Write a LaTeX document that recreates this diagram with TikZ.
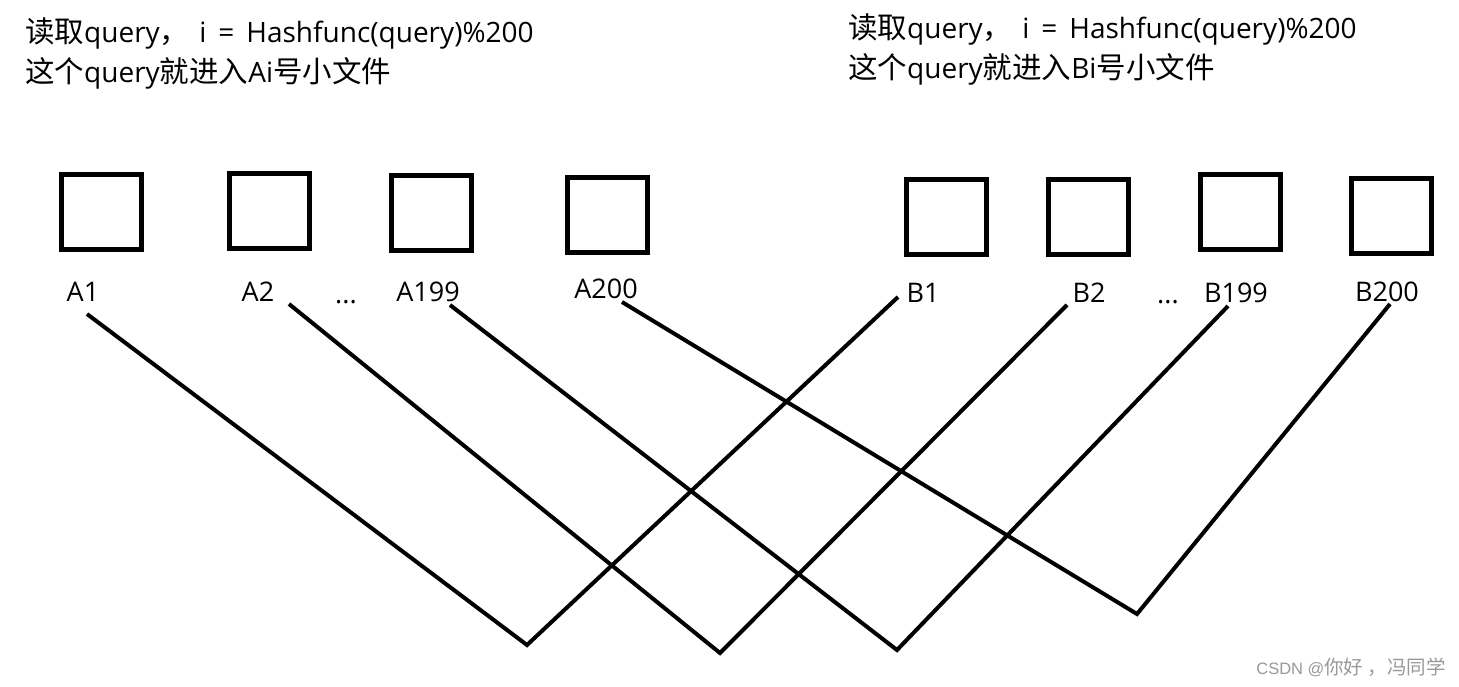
\documentclass[tikz,border=0pt]{standalone}
\usepackage{fontspec}
\setmainfont{Open Sans}
\newfontfamily\cjk{Noto Sans CJK SC}
\newfontfamily\wmlatin{Liberation Sans}
\newcommand{\zh}[1]{{\cjk\fontsize{29.5}{30}\selectfont #1}}
\begin{document}
\begin{tikzpicture}[x=1pt,y=-1pt,
  filebox/.style={draw,line width=5pt,minimum width=80pt,minimum height=75pt,inner sep=0pt},
  lbl/.style={font=\fontsize{27}{30}\selectfont,anchor=base,inner sep=0pt},
  note/.style={font=\fontsize{28}{30}\selectfont,anchor=base west,inner sep=0pt},
  link/.style={line width=4pt,line join=miter}]
\useasboundingbox[fill=white] (0,0) rectangle (1459,686);
% notes
\node[note] (nl1) at (25,42) {\zh{读取}query\zh{，}\hspace{10pt}i\hspace{12pt}=\hspace{12pt}Hashfunc(query)\%200};
\node[note] (nl2) at (25,82) {\zh{这个}query\zh{就进入}Ai\zh{号小文件}};
\node[note] (nr1) at (848,38) {\zh{读取}query\zh{，}\hspace{10pt}i\hspace{12pt}=\hspace{12pt}Hashfunc(query)\%200};
\node[note] (nr2) at (848,78) {\zh{这个}query\zh{就进入}Bi\zh{号小文件}};
% boxes
\node[filebox] (bA1) at (101,212) {};
\node[filebox] (bA2) at (269,211) {};
\node[filebox] (bA199) at (431,213) {};
\node[filebox] (bA200) at (607,215) {};
\node[filebox] (bB1) at (946,217) {};
\node[filebox] (bB2) at (1088,217) {};
\node[filebox] (bB199) at (1240,212) {};
\node[filebox] (bB200) at (1391,216) {};
% labels
\node[lbl] (lA1) at (83,301) {A1};
\node[lbl] (lA2) at (258,301) {A2};
\node[lbl] (ldA) at (346,303) {...};
\node[lbl] (lA199) at (428,301) {A199};
\node[lbl] (lA200) at (606,298) {A200};
\node[lbl] (lB1) at (923,302) {B1};
\node[lbl] (lB2) at (1089,302) {B2};
\node[lbl] (ldB) at (1168,303) {...};
\node[lbl] (lB199) at (1236,302) {B199};
\node[lbl] (lB200) at (1387,301) {B200};
% connector points
\coordinate (sA1) at (87,314);
\coordinate (sA2) at (289,304);
\coordinate (sA199) at (450,305);
\coordinate (sA200) at (622,302);
\coordinate (eB1) at (898,297);
\coordinate (eB2) at (1067,305);
\coordinate (eB199) at (1228,306);
\coordinate (eB200) at (1390,304);
\coordinate (v1) at (527,645);
\coordinate (v2) at (720,653);
\coordinate (v3) at (897,650);
\coordinate (v4) at (1137,614);
\draw[link] (sA1) -- (v1) -- (eB1);
\draw[link] (sA2) -- (v2) -- (eB2);
\draw[link] (sA199) -- (v3) -- (eB199);
\draw[link] (sA200) -- (v4) -- (eB200);
% watermark
\node[anchor=east,inner sep=0pt,text=black!40] (wm) at (1446,667) {\wmlatin\fontsize{16.5}{18}\selectfont CSDN @{\cjk\fontsize{19.5}{20}\selectfont 你好 ，冯同学}};
\end{tikzpicture}
\end{document}
